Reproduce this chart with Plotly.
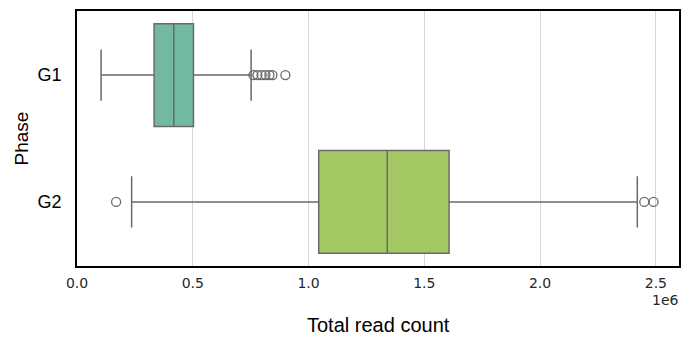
import plotly.graph_objects as go

phases = ["G1", "G2"]
q1 = [0.333e6, 1.044e6]
median = [0.418e6, 1.340e6]
q3 = [0.503e6, 1.607e6]
lower_whisker = [0.104e6, 0.236e6]
upper_whisker = [0.752e6, 2.420e6]
outliers_g1 = [0.762e6, 0.779e6, 0.797e6, 0.814e6, 0.831e6, 0.844e6, 0.900e6]
outliers_g2 = [0.169e6, 2.450e6, 2.490e6]
colors = ["#72b9a0", "#a4c964"]
line_gray = "#6a6a6a"

fig = go.Figure()
for i, p in enumerate(phases):
    fig.add_trace(go.Box(
        y=[p], q1=[q1[i]], median=[median[i]], q3=[q3[i]],
        lowerfence=[lower_whisker[i]], upperfence=[upper_whisker[i]],
        orientation="h", fillcolor=colors[i], width=0.81,
        line=dict(color=line_gray, width=1.5),
        whiskerwidth=0.5, boxpoints=False, showlegend=False,
        hoverinfo="skip",
    ))

for p, outs in zip(phases, [outliers_g1, outliers_g2]):
    fig.add_trace(go.Scatter(
        x=outs, y=[p] * len(outs), mode="markers",
        marker=dict(symbol="circle-open", size=9, color=line_gray,
                    line=dict(width=1.3, color=line_gray)),
        showlegend=False, hoverinfo="skip",
    ))

fig.update_layout(
    width=696, height=339,
    margin=dict(l=77, r=17, t=11, b=73),
    plot_bgcolor="white", paper_bgcolor="white",
    font=dict(family="DejaVu Sans", color="#262626"),
    xaxis=dict(
        range=[0, 2.6e6], tickvals=[0, 0.5e6, 1.0e6, 1.5e6, 2.0e6, 2.5e6],
        ticktext=["0.0", "0.5", "1.0", "1.5", "2.0", "2.5"],
        showgrid=True, gridcolor="#d5d5d5", gridwidth=1,
        showline=True, linecolor="black", linewidth=2, mirror=True,
        zeroline=False, ticks="", ticklabelstandoff=3, automargin=False,
        tickfont=dict(size=14, family="DejaVu Sans", color="#262626"),
    ),
    yaxis=dict(
        categoryorder="array", categoryarray=phases, autorange="reversed",
        showgrid=False, showline=True, linecolor="black", linewidth=2, mirror=True,
        zeroline=False, ticks="", ticklabelstandoff=10, automargin=False,
        tickfont=dict(size=18, family="Liberation Sans", color="black"),
    ),
    annotations=[
        dict(text="1e6", xref="paper", yref="paper", x=1.003, y=-0.133,
             xanchor="right", yanchor="middle", showarrow=False,
             font=dict(size=14, family="DejaVu Sans", color="#262626")),
        dict(text="Total read count", xref="paper", yref="paper", x=0.5, y=-0.231,
             xanchor="center", yanchor="middle", showarrow=False,
             font=dict(size=20, family="Liberation Sans", color="black")),
        dict(text="Phase", xref="paper", yref="paper", x=-0.0914, y=0.5,
             xanchor="center", yanchor="middle", showarrow=False, textangle=-90,
             font=dict(size=19, family="Liberation Sans", color="black")),
    ],
)

fig.write_html("out.html")
